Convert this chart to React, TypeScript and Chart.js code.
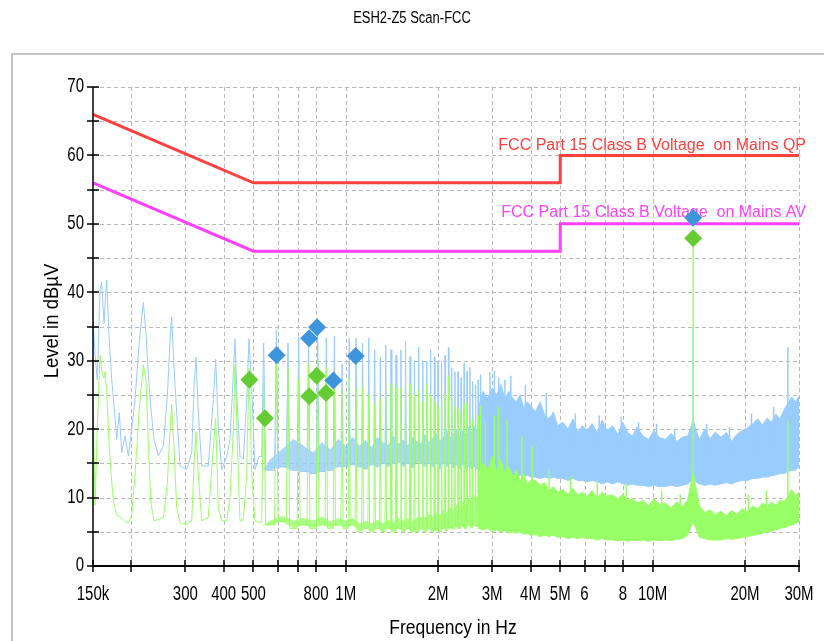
import React, { useEffect, useRef } from "react";
import { Chart, registerables } from "chart.js";

Chart.register(...registerables);

// ---------- text ----------
const TITLE = "ESH2-Z5 Scan-FCC";
const X_TITLE = "Frequency in Hz";
const Y_TITLE = "Level in dBµV";
const QP_LIMIT_LABEL = "FCC Part 15 Class B Voltage  on Mains QP";
const AV_LIMIT_LABEL = "FCC Part 15 Class B Voltage  on Mains AV";

// ---------- axes (frequency in MHz, level in dBµV) ----------
const xTickMHz = [0.15, 0.2, 0.3, 0.4, 0.5, 0.6, 0.7, 0.8, 1, 2, 3, 4, 5, 6, 7, 8, 10, 20, 30];
const xTickLabels = ["150k", "", "300", "400", "500", "", "", "800", "1M", "2M", "3M", "4M", "5M", "6", "", "8", "10M", "20M", "30M"];
const yTickLevels = [0, 10, 20, 30, 40, 50, 60, 70];
const yGridLevels = [5, 10, 15, 20, 25, 30, 35, 40, 45, 50, 55, 60, 65, 70];

// ---------- limit lines ----------
const limitMHz = [0.15, 0.5, 5, 5, 30];
const qpLimitLevels = [66, 56, 56, 60, 60];
const avLimitLevels = [56, 46, 46, 50, 50];

// ---------- final measurement markers ----------
const qpMarkMHz = [0.595, 0.759, 0.806, 0.911, 1.077, 13.56];
const qpMarkLevels = [30.8, 33.3, 34.9, 27.1, 30.7, 50.9];
const avMarkMHz = [0.485, 0.545, 0.76, 0.804, 0.862, 13.56];
const avMarkLevels = [27.2, 21.6, 24.8, 27.8, 25.3, 47.9];

// ---------- pre-scan 150 kHz .. 520 kHz, traced point by point ----------
const lowRangeMHz = [
  0.15, 0.1523, 0.1549, 0.1581, 0.1601, 0.1629, 0.1641, 0.1662, 0.1695, 0.1726,
  0.1747, 0.1792, 0.1827, 0.1861, 0.1907, 0.1955, 0.2006, 0.2056, 0.2123, 0.2188,
  0.2233, 0.2272, 0.2313, 0.2371, 0.2449, 0.2543, 0.262, 0.2674, 0.2708, 0.2755,
  0.2811, 0.2882, 0.3031, 0.3147, 0.3209, 0.325, 0.3306, 0.3392, 0.3563, 0.3699,
  0.3767, 0.3841, 0.3941, 0.4093, 0.4194, 0.43, 0.4355, 0.4431, 0.4521, 0.4635,
  0.4754, 0.4837, 0.4936, 0.5059, 0.5214,
];
const qpLowLevels = [
  36.4, 31, 27.2, 40.3, 41.5, 35.4, 38, 41.8, 32.9, 27.2,
  24.8, 18.5, 22.4, 16.6, 19, 16.1, 20, 24.3, 32.9, 38.5,
  33.9, 28.1, 23.4, 18.5, 16.1, 17.5, 24.8, 32.9, 36.4, 29,
  22.4, 14.6, 14.1, 16.6, 27.2, 30.5, 22.4, 14.6, 14.6, 24.3,
  30.2, 20.4, 14.1, 16, 18.5, 28.1, 33.2, 23.4, 16, 15.6,
  24.3, 33.2, 26, 14.1, 16,
];
const avLowLevels = [
  23.9, 8.9, 20.1, 30.8, 28.5, 27.5, 28.4, 25.5, 17.2, 12.4,
  9.5, 7.5, 7.2, 7, 6.5, 6.3, 7.5, 13.3, 23, 29.4,
  27, 18, 9.4, 6.6, 6.8, 7.1, 12, 20, 23.6, 17.2,
  8.5, 6.3, 6.1, 6.6, 15.8, 19.6, 13.3, 6.6, 7.1, 17.2,
  21.6, 8.5, 6.6, 6.6, 10, 20, 29.4, 18.2, 6.6, 6.8,
  13.3, 28.9, 13.3, 6.6, 6.4,
];

// ---------- pre-scan 540 kHz .. 2.7 MHz: harmonic peaks ----------
const harmonicMHz = [
  0.54, 0.594, 0.648, 0.702, 0.756, 0.81, 0.864, 0.918, 0.972,
  1.026, 1.08, 1.134, 1.188, 1.242, 1.296, 1.35, 1.404, 1.458, 1.512,
  1.566, 1.62, 1.674, 1.728, 1.782, 1.836, 1.89, 1.944, 1.998,
  2.052, 2.106, 2.16, 2.214, 2.268, 2.322, 2.376, 2.43, 2.484, 2.538, 2.592, 2.646, 2.7,
];
const qpPeaks = [
  32.6, 34.5, 32.6, 33.5, 33.5, 35, 33.3, 33.6, 29.5,
  33.3, 33.3, 32.6, 33.3, 31.6, 30.5, 32.3, 31.6, 30.8, 31.6,
  32.8, 30.6, 30, 32, 30, 29.9, 31.6, 30.5, 29.9,
  30, 30.8, 31.9, 29, 28.4, 28.4, 27.5, 29.6, 28.5, 29, 27, 26.5, 27.2,
];
const qpFloors = [
  14, 14.5, 14, 13.8, 13.5, 13.8, 14, 14.5, 14.5,
  14.8, 14.5, 14.2, 14.8, 14.5, 15, 14.6, 15, 15.2, 14.6,
  15, 14.4, 15.2, 15, 14.6, 15, 14.6, 15, 14.3,
  15, 14.6, 15, 14.4, 14.8, 14.3, 14.8, 14.3, 14.6, 14.2, 14.6, 14.2, 14,
];
const qpGapTop = [
  15.5, 17, 18.5, 17.5, 16.5, 18, 17, 18.5, 17.5,
  18.8, 17.5, 18.3, 17.3, 18.8, 18, 17.6, 19, 17.8, 18.4,
  17.5, 18.8, 18.2, 17.8, 19.2, 18, 18.6, 19.4, 18.3,
  18.8, 19.8, 18.7, 19.3, 20, 18.9, 19.8, 19.3, 20.3, 19.5, 20.5, 19.8, 20.5,
];
const avPeaks = [
  27, 29.6, 29, 27.4, 29.6, 30, 29, 26, 25.7,
  27.7, 26, 26.2, 25, 23.8, 24.5, 25, 26.7, 26, 26,
  27.7, 26.5, 25, 25.7, 24, 26.7, 25, 24, 23.3,
  24.5, 25, 27.7, 25, 23.3, 23, 22.5, 23.8, 23.8, 22, 21.3, 21, 22,
];
const avFloors = [
  6, 6.5, 5.5, 6, 5.5, 6, 5.5, 6, 5.5,
  6, 5, 5.5, 5, 5.5, 5, 5.5, 5, 5.5, 5,
  5.5, 5, 5, 5.5, 5, 5.5, 5, 5.2, 5,
  5.5, 5.2, 5.6, 5.4, 5.8, 5.5, 5.8, 5.5, 6, 5.6, 6, 5.8, 5.8,
];
const avGapTop = [
  6.6, 7.3, 6.6, 7, 6.6, 7.2, 6.5, 7, 6.6,
  7, 6.2, 6.6, 6.2, 6.8, 6.2, 6.8, 6.4, 7, 6.5,
  7, 6.6, 7, 7.2, 7, 7.6, 7.2, 7.8, 7.4,
  8.2, 7.8, 8.6, 8.2, 9, 8.6, 9.4, 9, 10, 9.4, 10.4, 10, 10.8,
];
const PEAK_HALF_WIDTH_MHZ = 0.008;

// ---------- pre-scan 2.7 .. 30 MHz: dense noise band ----------
const bandMHz = [
  2.7, 2.8, 2.9, 3.0, 3.1, 3.2, 3.3, 3.4, 3.5, 3.6, 3.7, 3.8, 3.9, 4.0,
  4.15, 4.3, 4.45, 4.6, 4.75, 4.9, 5.1, 5.3, 5.5, 5.7, 5.9, 6.1,
  6.35, 6.6, 6.85, 7.1, 7.4, 7.7, 8.0, 8.3, 8.6, 8.9, 9.3, 9.7, 10.1, 10.5,
  11.0, 11.5, 12.0, 12.5, 13.0, 13.4, 13.56, 13.7, 14.2, 14.8, 15.4, 16.0,
  16.7, 17.4, 18.1, 18.8, 19.6, 20.4, 21.2, 22.0, 22.8, 23.6, 24.4, 25.2,
  26.0, 26.8, 27.6, 28.4, 29.2, 30.0,
];
const qpBandHigh = [
  23, 25.5, 24.5, 26, 25, 26.5, 24.5, 25.5, 24.5, 24, 25, 23, 24, 23.5,
  22.5, 24, 22, 21.5, 22.5, 20.5, 21, 20, 21.5, 19.5, 20.5, 19.8,
  20.8, 19.5, 21.3, 19.8, 20.5, 19.2, 21, 19.5, 19, 20.3, 19, 18.5, 19.8, 18.8,
  18.5, 19.4, 18.2, 18.8, 19, 20.5, 21.5, 20.5, 18.5, 20, 18.6, 19.6,
  18.8, 19.5, 18.2, 19.2, 19.8, 20.2, 20.8, 21.5, 20.6, 21.6, 21, 22.2,
  21.5, 22.8, 23.8, 24.7, 24, 24.8,
];
const qpBandLow = [
  14, 13.5, 14, 13.5, 13.5, 13.3, 13.5, 13, 13.3, 13, 13.3, 13, 13.3, 13,
  13, 12.8, 13, 12.8, 13, 12.8, 12.8, 12.5, 12.8, 12.5, 12.5, 12.3,
  12.5, 12.3, 12, 12.3, 12, 12.3, 12, 11.8, 12, 11.8, 11.8, 11.6, 11.8, 11.6,
  11.6, 11.8, 11.6, 11.8, 12, 12.5, 13, 12.5, 12, 11.8, 12, 11.8,
  12, 12.2, 12, 12.3, 12.5, 12.5, 12.8, 12.8, 13, 13, 13.2, 13.3,
  13.5, 13.5, 13.8, 14, 14, 14.5,
];
const avBandHigh = [
  12, 15, 14, 16, 14, 15.5, 13.5, 14.5, 13, 14, 12.5, 13.5, 12, 12.5,
  12.5, 11.8, 12.2, 11, 11.6, 10.8, 11.2, 10.5, 11.3, 10.4, 10.8, 10.2,
  11, 10, 10.8, 10.2, 10.4, 9.8, 10.5, 9.6, 9.8, 9.2, 9.6, 8.8, 9.8, 9,
  9.2, 8.5, 9.4, 8.7, 9.6, 12.5, 14, 12.5, 8.8, 7.8, 8.2, 7.5,
  8, 7.4, 8.1, 7.6, 8.4, 7.9, 8.8, 8.3, 9.2, 8.7, 9.3, 8.9,
  9.6, 9.4, 10.2, 11.2, 10.2, 10.8,
];
const avBandLow = [
  5.5, 5.3, 5.5, 5, 5.3, 5, 5.2, 4.8, 5, 4.8, 5, 4.6, 4.8, 4.5,
  4.6, 4.3, 4.5, 4.3, 4.5, 4.2, 4.3, 4, 4.2, 4, 4.2, 4,
  4, 3.8, 4, 3.8, 3.8, 3.7, 3.8, 3.6, 3.8, 3.7, 3.8, 3.6, 3.8, 3.7,
  3.8, 3.7, 3.9, 4, 4.5, 6, 7, 6, 4.2, 4, 3.8, 3.8,
  3.8, 4, 3.9, 4, 4.2, 4.3, 4.5, 4.6, 4.8, 5, 5.1, 5.3,
  5.5, 5.6, 5.8, 6, 6.2, 6.5,
];

// ---------- isolated narrow spikes ----------
const qpSpikeMHz = [13.56, 27.6, 2.75, 2.95, 3.05, 3.15, 3.3, 3.45, 3.85, 4.5, 5.6, 6.7, 7.9, 9.0, 10.3, 11.8, 15.0, 17.8, 21.0, 24.8];
const qpSpikeBase = [15, 16, 18, 18, 20, 18, 18, 20, 19, 19, 17, 17, 17, 16, 16, 16, 16, 16, 16, 17];
const qpSpikeLevels = [35, 32, 28, 28.3, 28.5, 27.5, 27.2, 27.8, 26.5, 25.3, 22.3, 22, 21.8, 21, 20.8, 20, 20.8, 20.3, 22.3, 23.3];
const avSpikeMHz = [13.56, 27.6, 2.75, 2.85, 3.05, 3.15, 3.35, 3.75, 4.05, 4.6, 5.4, 6.6, 8.2, 10.7, 12.3, 20.5, 23.5];
const avSpikeBase = [6, 7, 8, 8, 8, 8, 8, 8, 8, 8, 7, 7, 6, 6, 6, 6, 6];
const avSpikeLevels = [48, 21.3, 23.5, 21, 22, 23.3, 21.5, 19, 17.5, 14, 13, 12.5, 12, 11, 10.5, 10.5, 11];

// ---------- colours ----------
const QP_TRACE = "#99ccff";
const AV_TRACE = "#99ff66";
const QP_GAP_FILL = "rgba(153,204,255,0.8)";
const AV_GAP_FILL = "rgba(153,255,102,0.8)";
const QP_MARK = "#3d96dc";
const AV_MARK = "#66cc33";
const QP_LIMIT = "#ff4040";
const AV_LIMIT = "#ff40ff";
const FONT = '"Liberation Sans", Arial, sans-serif';

type P = { x: number; y: number | null };

function pairs(xs: number[], ys: number[]): P[] {
  return xs.map((x, i) => ({ x, y: ys[i] }));
}

function prescanTrace(lowLevels: number[], peaks: number[], floors: number[]): P[] {
  const pts: P[] = pairs(lowRangeMHz, lowLevels);
  harmonicMHz.forEach((f, i) => {
    const before = i === 0 ? lowLevels[lowLevels.length - 1] : floors[i - 1];
    pts.push({ x: f - PEAK_HALF_WIDTH_MHZ, y: before });
    pts.push({ x: f, y: peaks[i] });
    pts.push({ x: f + PEAK_HALF_WIDTH_MHZ, y: floors[i] });
  });
  return pts;
}

// noise between harmonics: one value per gap, placed mid-gap
function gapBand(values: number[], floors: number[]): P[] {
  const pts: P[] = [{ x: harmonicMHz[0], y: floors[0] }];
  harmonicMHz.forEach((f, i) => {
    const next = i + 1 < harmonicMHz.length ? harmonicMHz[i + 1] : bandMHz[1];
    pts.push({ x: Math.sqrt(f * next), y: values[i] });
  });
  return pts;
}

function spikes(mhz: number[], bases: number[], levels: number[]): P[] {
  const pts: P[] = [];
  mhz.forEach((f, i) => {
    pts.push({ x: f, y: bases[i] });
    pts.push({ x: f, y: levels[i] });
    pts.push({ x: f, y: null });
  });
  return pts;
}

function drawText(
  ctx: CanvasRenderingContext2D,
  text: string,
  x: number,
  y: number,
  o: { size: number; sy?: number; align?: CanvasTextAlign; color?: string; rotate?: number }
) {
  ctx.save();
  ctx.translate(x, y);
  if (o.rotate) ctx.rotate(o.rotate);
  ctx.scale(1, o.sy ?? 1);
  ctx.font = `${o.size}px ${FONT}`;
  ctx.textAlign = o.align ?? "center";
  ctx.textBaseline = "middle";
  ctx.fillStyle = o.color ?? "#000";
  ctx.fillText(text, 0, 0);
  ctx.restore();
}

const decorPlugin = {
  id: "decor",
  beforeDraw(chart: any) {
    const ctx: CanvasRenderingContext2D = chart.ctx;
    ctx.save();
    ctx.fillStyle = "#fff";
    ctx.fillRect(0, 0, chart.width, chart.height);
    ctx.strokeStyle = "#c4c4c4";
    ctx.lineWidth = 2;
    ctx.beginPath();
    ctx.moveTo(12, chart.height);
    ctx.lineTo(12, 54);
    ctx.lineTo(chart.width, 54);
    ctx.stroke();
    ctx.restore();
    drawText(ctx, TITLE, 412, 18, { size: 13, sy: 1.3 });
  },
  beforeDatasetsDraw(chart: any) {
    const ctx: CanvasRenderingContext2D = chart.ctx;
    const xs = chart.scales.x;
    const ys = chart.scales.y;
    const a = chart.chartArea;
    ctx.save();
    ctx.strokeStyle = "#b8b8b8";
    ctx.lineWidth = 1;
    ctx.setLineDash([4, 3]);
    ctx.beginPath();
    xTickMHz.forEach((f, i) => {
      if (i === 0) return;
      const px = Math.round(xs.getPixelForValue(f)) + 0.5;
      ctx.moveTo(px, a.top);
      ctx.lineTo(px, a.bottom);
    });
    yGridLevels.forEach((v) => {
      const py = Math.round(ys.getPixelForValue(v)) + 0.5;
      ctx.moveTo(a.left, py);
      ctx.lineTo(a.right, py);
    });
    ctx.stroke();
    ctx.restore();
    drawText(ctx, QP_LIMIT_LABEL, 806, 145, { size: 16, sy: 1.08, align: "right", color: QP_LIMIT });
    drawText(ctx, AV_LIMIT_LABEL, 806, 212, { size: 16, sy: 1.08, align: "right", color: AV_LIMIT });
  },
  afterDatasetsDraw(chart: any) {
    const ctx: CanvasRenderingContext2D = chart.ctx;
    const xs = chart.scales.x;
    const ys = chart.scales.y;
    const a = chart.chartArea;
    ctx.save();
    ctx.strokeStyle = "#000";
    ctx.lineWidth = 1.5;
    ctx.beginPath();
    ctx.moveTo(a.left, a.top);
    ctx.lineTo(a.left, a.bottom);
    ctx.stroke();
    ctx.lineWidth = 2;
    ctx.beginPath();
    ctx.moveTo(a.left, a.bottom);
    ctx.lineTo(a.right + 1, a.bottom);
    ctx.stroke();
    ctx.lineWidth = 1.5;
    ctx.beginPath();
    yGridLevels.concat([0]).forEach((v) => {
      const py = Math.round(ys.getPixelForValue(v));
      ctx.moveTo(a.left - 6, py);
      ctx.lineTo(a.left + 6, py);
    });
    xTickMHz.forEach((f) => {
      const px = Math.round(xs.getPixelForValue(f));
      ctx.moveTo(px, a.bottom - 6);
      ctx.lineTo(px, a.bottom + 6);
    });
    ctx.stroke();
    ctx.restore();
    yTickLevels.forEach((v) => {
      drawText(ctx, String(v), a.left - 9, ys.getPixelForValue(v), { size: 15, sy: 1.3, align: "right" });
    });
    xTickMHz.forEach((f, i) => {
      if (!xTickLabels[i]) return;
      drawText(ctx, xTickLabels[i], xs.getPixelForValue(f), a.bottom + 29, { size: 15, sy: 1.3 });
    });
    drawText(ctx, X_TITLE, (a.left + a.right) / 2 + 7, 628, { size: 17.5, sy: 1.15 });
    drawText(ctx, Y_TITLE, 52, 321, { size: 18.5, sy: 1.1, rotate: -Math.PI / 2 });
  },
};

export default function App() {
  const ref = useRef<HTMLCanvasElement | null>(null);
  useEffect(() => {
    if (!ref.current) return;
    const line = (data: P[], color: string, extra: any = {}) => ({
      data,
      borderColor: color,
      backgroundColor: color,
      borderWidth: 1,
      pointRadius: 0,
      tension: 0,
      spanGaps: false,
      fill: false,
      ...extra,
    });
    const marks = (xs: number[], ys: number[], color: string) => ({
      data: pairs(xs, ys),
      showLine: false,
      pointStyle: "rectRot",
      pointRadius: 9,
      pointBorderWidth: 0,
      pointBackgroundColor: color,
      pointBorderColor: color,
      borderColor: color,
      backgroundColor: color,
    });
    const chart = new Chart(ref.current, {
      type: "line",
      data: {
        datasets: [
          marks(qpMarkMHz, qpMarkLevels, QP_MARK),
          marks(avMarkMHz, avMarkLevels, AV_MARK),
          line(pairs(limitMHz, qpLimitLevels), QP_LIMIT, { borderWidth: 3 }),
          line(pairs(limitMHz, avLimitLevels), AV_LIMIT, { borderWidth: 3 }),
          line(spikes(avSpikeMHz, avSpikeBase, avSpikeLevels), AV_TRACE, { borderWidth: 1.5 }),
          line(prescanTrace(avLowLevels, avPeaks, avFloors), AV_TRACE),
          line(gapBand(avGapTop, avFloors), AV_GAP_FILL, { fill: "+1", borderWidth: 0 }),
          line(gapBand(avFloors, avFloors), AV_GAP_FILL, { borderWidth: 0 }),
          line(pairs(bandMHz, avBandHigh), AV_TRACE, { fill: "+1" }),
          line(pairs(bandMHz, avBandLow), AV_TRACE),
          line(spikes(qpSpikeMHz, qpSpikeBase, qpSpikeLevels), QP_TRACE, { borderWidth: 1.5 }),
          line(prescanTrace(qpLowLevels, qpPeaks, qpFloors), QP_TRACE),
          line(gapBand(qpGapTop, qpFloors), QP_GAP_FILL, { fill: "+1", borderWidth: 0.8 }),
          line(gapBand(qpFloors, qpFloors), QP_GAP_FILL, { borderWidth: 0 }),
          line(pairs(bandMHz, qpBandHigh), QP_TRACE, { fill: "+1" }),
          line(pairs(bandMHz, qpBandLow), QP_TRACE),
        ] as any,
      },
      options: {
        animation: false,
        responsive: false,
        devicePixelRatio: 1,
        layout: { padding: { left: 93, top: 87, right: 25, bottom: 75 } },
        scales: {
          x: {
            type: "logarithmic",
            min: 0.15,
            max: 30,
            grid: { display: false, drawTicks: false },
            ticks: { display: false },
            border: { display: false },
          },
          y: {
            type: "linear",
            min: 0,
            max: 70,
            grid: { display: false, drawTicks: false },
            ticks: { display: false },
            border: { display: false },
          },
        },
        plugins: {
          legend: { display: false },
          tooltip: { enabled: false },
          title: { display: false },
        },
      },
      plugins: [decorPlugin],
    } as any);
    return () => chart.destroy();
  }, []);
  return (
    <div style={{ position: "absolute", left: 0, top: 0, width: 824, height: 641, background: "#fff" }}>
      <canvas ref={ref} width={824} height={641} style={{ display: "block" }} />
    </div>
  );
}
